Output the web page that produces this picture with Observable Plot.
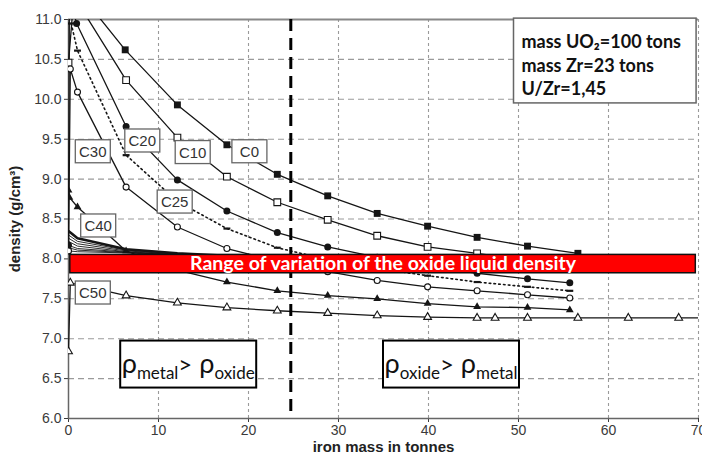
<!DOCTYPE html>
<html><head><meta charset="utf-8">
<script src="https://cdn.jsdelivr.net/npm/d3@7"></script>
<script src="https://cdn.jsdelivr.net/npm/@observablehq/plot@0.6"></script>
<style>body{margin:0;background:#fff;} svg{display:block}</style>
</head><body><div id="chart"></div>
<script>
// ---- tick values ----
const xTicks = [0, 10, 20, 30, 40, 50, 60, 70];
const yTicks = [6, 6.5, 7, 7.5, 8, 8.5, 9, 9.5, 10, 10.5, 11];

// ---- series (iron mass in tonnes, density g/cm3) ----
const c0Mass = [0.6, 6.3, 12.1, 17.6, 23.2, 28.8, 34.3, 39.9, 45.4, 51.0, 56.6];
const c0Density = [11.42, 10.62, 9.93, 9.43, 9.06, 8.79, 8.57, 8.41, 8.27, 8.16, 8.07];

const c10Mass = [0, 0.6, 6.4, 12.1, 17.6, 23.2, 28.8, 34.3, 39.9, 45.4, 51.0, 56.6];
const c10Density = [10.46, 11.29, 10.24, 9.52, 9.03, 8.71, 8.49, 8.29, 8.15, 8.07, 7.98, 7.92];

const c20Mass = [0, 0.1, 0.9, 6.4, 12.1, 17.6, 23.2, 28.8, 34.3, 39.9, 45.4, 51.0, 55.7];
const c20Density = [8.17, 11.3, 10.95, 9.66, 8.99, 8.60, 8.33, 8.15, 8.02, 7.91, 7.82, 7.75, 7.70];

const c25Mass = [0.3, 1.0, 6.4, 12.1, 17.6, 23.2, 28.8, 34.3, 39.9, 45.4, 51.0, 55.7];
const c25Density = [10.95, 10.61, 9.30, 8.72, 8.38, 8.14, 7.99, 7.88, 7.79, 7.71, 7.65, 7.60];

const c30Mass = [0, 0.2, 1.0, 6.4, 12.1, 17.6, 23.2, 28.8, 34.3, 39.9, 45.4, 51.0, 55.7];
const c30Density = [8.10, 10.38, 10.09, 8.90, 8.40, 8.13, 7.97, 7.84, 7.73, 7.65, 7.60, 7.55, 7.51];

const c40Mass = [0, 0.1, 1.0, 6.4, 12.1, 17.6, 23.2, 28.8, 34.3, 39.9, 45.4, 51.0, 55.7];
const c40Density = [8.86, 8.77, 8.65, 8.10, 7.86, 7.71, 7.60, 7.54, 7.50, 7.44, 7.40, 7.39, 7.36];

const c50Mass = [0, 0.2, 6.4, 12.1, 17.6, 23.2, 28.8, 34.3, 39.9, 45.4, 47.4, 51.0, 56.6, 62.2, 67.8, 70];
const c50Density = [6.84, 7.70, 7.54, 7.45, 7.39, 7.35, 7.32, 7.29, 7.27, 7.26, 7.26, 7.26, 7.26, 7.26, 7.26, 7.26];

// intermediate compositions (unlabelled bundle between C30 and C40)
const bundleMass = [0, 1.0, 6.4, 12.1, 17.6];
const bundleDensity = [
  [8.35, 8.26, 8.12, 8.07, 8.04],
  [8.30, 8.22, 8.11, 8.065, 8.04],
  [8.26, 8.19, 8.10, 8.06, 8.035],
  [8.22, 8.16, 8.09, 8.055, 8.03],
  [8.17, 8.13, 8.085, 8.05, 8.03],
  [8.14, 8.11, 8.08, 8.05, 8.02],
  [8.10, 8.09, 8.075, 8.045, 8.02]
];

// oxide liquid density range
const bandMass = [0.2, 69.7];
const bandDensity = [7.82, 8.05];
const bandLabel = "Range of variation of the oxide liquid density";

// threshold iron mass
const thresholdMass = 24.7;

// curve labels
const labelNames = ["C0", "C10", "C20", "C25", "C30", "C40", "C50"];
const labelMass = [20.1, 13.8, 8.2, 11.8, 2.7, 3.3, 2.7];
const labelDensity = [9.34, 9.33, 9.475, 8.71, 9.34, 8.41, 7.57];

// annotation texts
const infoLines = ["mass UO₂=100 tons", "mass Zr=23 tons", "U/Zr=1,45"];
const regionMass = [13.3, 42.5];
const regionDensity = [6.68, 6.68];
const regionTexts = [["metal", "oxide"], ["oxide", "metal"]];

// ---- build tables ----
const series = [
  {name: "C0", mass: c0Mass, density: c0Density},
  {name: "C10", mass: c10Mass, density: c10Density},
  {name: "C20", mass: c20Mass, density: c20Density},
  {name: "C25", mass: c25Mass, density: c25Density},
  {name: "C30", mass: c30Mass, density: c30Density},
  {name: "C40", mass: c40Mass, density: c40Density},
  {name: "C50", mass: c50Mass, density: c50Density}
];
const rows = series.flatMap(s => s.mass.map((m, i) => ({series: s.name, mass: m, density: s.density[i]})));
const bundleRows = bundleDensity.flatMap((arr, k) => arr.map((d, i) => ({series: "B" + k, k, mass: bundleMass[i], density: d})));
const labels = labelNames.map((n, i) => ({name: n, mass: labelMass[i], density: labelDensity[i]}));
const band = [{x1: bandMass[0], x2: bandMass[1], y1: bandDensity[0], y2: bandDensity[1]}];
const regions = regionTexts.map((t, i) => ({t, mass: regionMass[i], density: regionDensity[i]}));

const of = name => rows.filter(d => d.series === name && d.mass < 69.5);
const dashSymbol = {draw(ctx, size) { const w = Math.sqrt(size) * 1.3; ctx.moveTo(-w/2, -1.1); ctx.lineTo(w/2, -1.1); ctx.lineTo(w/2, 1.1); ctx.lineTo(-w/2, 1.1); ctx.closePath(); }};
const ink = "#151515";
const calibriLike = "Lato, 'Open Sans', sans-serif";

const plot = Plot.plot({
  width: 702, height: 457,
  marginLeft: 68, marginRight: 4, marginTop: 19, marginBottom: 39,
  style: {fontFamily: "'Liberation Sans', Arial, sans-serif", fontSize: "14px", color: "#3a3a3a", background: "#fff", overflow: "visible"},
  x: {domain: [0, 70], ticks: xTicks, tickSize: 4, tickPadding: 3, label: null},
  y: {domain: [6, 11], ticks: yTicks, tickFormat: d => d.toFixed(1), tickSize: 4, tickPadding: 3, label: null},
  marks: [
    Plot.ruleY(yTicks.filter(d => d > 6 && d < 11), {stroke: "#9a9a9a", strokeDasharray: "6,4", strokeWidth: 1.1}),
    Plot.ruleX(xTicks.filter(d => d > 0), {stroke: "#9a9a9a", strokeDasharray: "3,3", strokeWidth: 1.1}),
    Plot.ruleY([11], {stroke: "#888", strokeWidth: 2}),
    Plot.ruleY([6], {stroke: "#666", strokeWidth: 1.5}),
    Plot.ruleX([0], {stroke: "#666", strokeWidth: 1.5}),
    // bundle lines
    Plot.line(bundleRows, {x: "mass", y: "density", z: "series", stroke: ink, strokeWidth: d => d.k === 0 ? 2.6 : 0.9, clip: true}),
    // main lines
    Plot.line(rows.filter(d => d.series !== "C25"), {x: "mass", y: "density", z: "series", stroke: ink, strokeWidth: 1.3, clip: true}),
    Plot.line(of("C25"), {x: "mass", y: "density", stroke: ink, strokeWidth: 1.6, strokeDasharray: "1.6,3.2", clip: true}),
    // markers
    Plot.dot(of("C0"), {x: "mass", y: "density", symbol: "square", r: 3.9, fill: ink, clip: true}),
    Plot.dot(of("C10"), {x: "mass", y: "density", symbol: "square", r: 3.8, fill: "white", stroke: ink, strokeWidth: 1.1, clip: true}),
    Plot.dot(of("C20"), {x: "mass", y: "density", symbol: "circle", r: 3.5, fill: ink, clip: true}),
    Plot.dot(of("C25"), {x: "mass", y: "density", symbol: dashSymbol, r: 3, fill: ink, clip: true}),
    Plot.dot(of("C30"), {x: "mass", y: "density", symbol: "circle", r: 3, fill: "white", stroke: ink, strokeWidth: 1.1, clip: true}),
    Plot.dot(of("C40"), {x: "mass", y: "density", symbol: "triangle", r: 2.9, fill: ink, clip: true}),
    Plot.dot(of("C50"), {x: "mass", y: "density", symbol: "triangle", r: 2.9, fill: "white", stroke: ink, strokeWidth: 1.1, clip: true}),
    // threshold
    Plot.ruleX([thresholdMass], {stroke: "#000", strokeWidth: 3, strokeDasharray: "12,7", insetBottom: 7}),
    // oxide band
    Plot.rect(band, {x1: "x1", x2: "x2", y1: "y1", y2: "y2", fill: "#ff0000", stroke: "#111", strokeWidth: 1.5}),
    Plot.text([bandLabel], {x: (bandMass[0] + bandMass[1]) / 2, y: (bandDensity[0] + bandDensity[1]) / 2, text: d => d, fill: "white", fontWeight: "bold", fontSize: 18, fontFamily: calibriLike}),
    // curve labels
    Plot.text(labels, {x: "mass", y: "density", text: "name", fill: "#333", fontSize: 15}),
    // info
    Plot.text([infoLines.join("\n")], {frameAnchor: "top-right", dx: -177, dy: 12, textAnchor: "start", lineAnchor: "top", lineHeight: 1.3, text: d => d, fill: "#111", fontWeight: "bold", fontSize: 18, fontFamily: calibriLike}),
    // region texts
    Plot.text(regions, {x: "mass", y: "density", text: d => "ρ", fill: "#111", fontSize: 26, fontFamily: calibriLike}),
    // axis titles
    Plot.text(["density (g/cm³)"], {frameAnchor: "left", dx: -53, rotate: -90, textAnchor: "middle", lineAnchor: "middle", text: d => d, fontWeight: "bold", fontSize: 15, fill: "#222"}),
    Plot.text(["iron mass in tonnes"], {frameAnchor: "bottom", dy: 29, textAnchor: "middle", lineAnchor: "middle", text: d => d, fontWeight: "bold", fontSize: 15, fill: "#222"})
  ]
});

document.getElementById("chart").appendChild(plot);

const NS = "http://www.w3.org/2000/svg";
function boxBehind(t, pads, style) {
  const b = t.getBBox();
  const r = document.createElementNS(NS, "rect");
  const x = pads.w ? b.x + b.width / 2 - pads.w / 2 : b.x - pads.l;
  const w = pads.w ? pads.w : b.width + pads.l + pads.r;
  const y = pads.h ? b.y + b.height / 2 - pads.h / 2 + (pads.oy || 0) : b.y - pads.t;
  const h = pads.h ? pads.h : b.height + pads.t + pads.b;
  r.setAttribute("x", x); r.setAttribute("y", y);
  r.setAttribute("width", w); r.setAttribute("height", h);
  if (t.getAttribute("transform")) r.setAttribute("transform", t.getAttribute("transform"));
  r.setAttribute("fill", "white");
  r.setAttribute("stroke", style.stroke);
  r.setAttribute("stroke-width", style.width);
  t.parentNode.insertBefore(r, t);
}

const allTexts = Array.from(plot.querySelectorAll("text"));
let regionIndex = 0;
for (const t of allTexts) {
  const s = t.textContent;
  if (s === bandLabel) {
    t.setAttribute("textLength", 386);
    t.setAttribute("lengthAdjust", "spacingAndGlyphs");
  } else if (labelNames.includes(s)) {
    boxBehind(t, {w: 35, h: 23}, {stroke: "#666", width: 1.3});
  } else if (s.startsWith("mass UO")) {
    boxBehind(t, {l: 8, r: 15, t: 12, b: 4}, {stroke: "#666", width: 1.5});
  } else if (s === "ρ" && regionIndex < regions.length) {
    const [a, b] = regions[regionIndex++].t;
    t.textContent = "";
    const parts = [["ρ", 27, 0], [a, 17, 6], [">", 24, -6], [" ρ", 27, 0], [b, 17, 6]];
    for (const [str, fs, dy] of parts) {
      const sp = document.createElementNS(NS, "tspan");
      sp.textContent = str;
      sp.setAttribute("font-size", fs);
      if (dy) sp.setAttribute("dy", dy);
      t.appendChild(sp);
    }
    boxBehind(t, {w: 136, h: 47, oy: 0}, {stroke: "#000", width: 2});
  }
}
</script>
</body></html>
